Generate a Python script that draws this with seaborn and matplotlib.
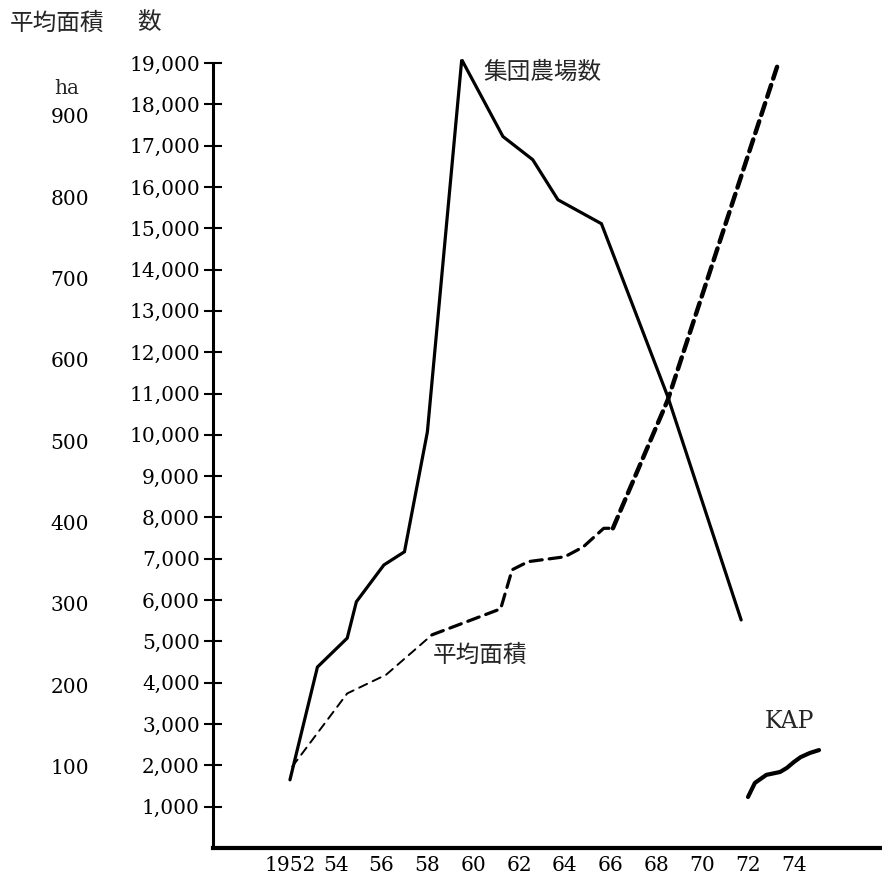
import matplotlib
matplotlib.use("Agg")
import matplotlib.pyplot as plt
import seaborn as sns
import pandas as pd
from matplotlib.ticker import FuncFormatter, FixedLocator

# ---------------- data ----------------
farm_years = [1952.0, 1953.2, 1954.5, 1954.9, 1956.1, 1957.0, 1958.0, 1959.5,
              1961.3, 1962.6, 1963.7, 1965.6, 1968.5, 1971.7]
farm_counts = [1650, 4380, 5080, 5960, 6850, 7170, 10070, 19080,
               17220, 16660, 15690, 15110, 10920, 5520]

area_years = [1952.1, 1954.5, 1956.2, 1958.2, 1961.2, 1961.7, 1962.4,
              1964.0, 1964.8, 1965.7, 1966.1, 1968.5, 1973.3]
area_ha = [100, 190, 213, 262, 294, 342, 352, 358, 370, 393, 393, 551, 963]

kap_years = [1972.0, 1972.3, 1972.8, 1973.4, 1973.7, 1974.0, 1974.3, 1974.7, 1975.1]
kap_counts = [1235, 1575, 1770, 1840, 1940, 2080, 2200, 2300, 2370]

year_ticks = list(range(1952, 1975, 2))
year_labels = ["1952", "54", "56", "58", "60", "62", "64", "66", "68", "70", "72", "74"]
farm_ticks = list(range(1000, 19001, 1000))
ha_ticks = list(range(100, 901, 100))

label_farms = "集団農場数"
label_area = "平均面積"
label_kap = "KAP"
top_left_area = "平均面積"
top_left_count = "数"
unit_ha = "ha"

# ---------------- styling ----------------
sns.set_theme(style="white")
plt.rcParams["font.family"] = ["DejaVu Serif", "Noto Sans CJK JP"]
JP = ["Noto Sans CJK JP", "DejaVu Sans"]
NUM_FS = 14.5
JP_FS = 17

W, H = 882, 885
fig = plt.figure(figsize=(W / 100, H / 100), dpi=100)
fig.patch.set_facecolor("white")

ax_left, ax_bottom, ax_top = 213, 848, 63
ax = fig.add_axes([ax_left / W, (H - ax_bottom) / H, (W - ax_left) / W, (ax_bottom - ax_top) / H])
ax.set_facecolor("white")
ax.set_xlim(1948.64, 1977.85)
ax.set_ylim(0, 19000)

# number of collective farms (solid)
df_farm = pd.DataFrame({"year": farm_years, "n": farm_counts})
sns.lineplot(data=df_farm, x="year", y="n", ax=ax, color="black", lw=2.3,
             sort=False, estimator=None, clip_on=False, solid_joinstyle="miter")

# KAP (solid, curved)
df_kap = pd.DataFrame({"year": kap_years, "n": kap_counts})
sns.lineplot(data=df_kap, x="year", y="n", ax=ax, color="black", lw=3.0,
             sort=False, estimator=None, clip_on=False, solid_capstyle="round")

# average area (dashed) on the ha scale
ax2 = ax.twinx()
ax2.set_ylim(0, 965)
df_area = pd.DataFrame({"year": area_years, "ha": area_ha})
zones = [(0, 3, 1.4, (4.5, 3.2)), (3, 10, 2.3, (3.8, 2.2)), (10, 12, 3.2, (2.8, 1.5))]
for i0, i1, lw, dash in zones:
    part = df_area.iloc[i0:i1 + 1]
    sns.lineplot(data=part, x="year", y="ha", ax=ax2, color="black", lw=lw,
                 linestyle=(0, dash), sort=False, estimator=None, clip_on=False,
                 dash_capstyle="round")

# ---------------- axes ----------------
for s in ["top", "right"]:
    ax.spines[s].set_visible(False)
ax.spines["left"].set_linewidth(2.2)
ax.spines["bottom"].set_linewidth(3.0)
ax.spines["left"].set_color("black")
ax.spines["bottom"].set_color("black")

ax.yaxis.set_major_locator(FixedLocator(farm_ticks))
ax.yaxis.set_major_formatter(FuncFormatter(lambda v, p: f"{int(v):,}"))
ax.tick_params(axis="y", direction="inout", length=13, width=1.5, pad=3,
               labelsize=NUM_FS, colors="black", left=True)
ax.set_xticks(year_ticks)
ax.set_xticklabels(year_labels)
ax.tick_params(axis="x", length=0, pad=6, labelsize=NUM_FS, colors="black")
ax.set_xlabel("")
ax.set_ylabel("")

for s in ax2.spines.values():
    s.set_visible(False)
ax2.yaxis.set_ticks_position("left")
ax2.spines["left"].set_position(("axes", -0.185))
ax2.yaxis.set_major_locator(FixedLocator(ha_ticks))
ax2.tick_params(axis="y", length=0, pad=0, labelsize=NUM_FS, colors="black",
                left=True, right=False, labelleft=True, labelright=False)
ax2.set_ylabel("")

# ---------------- texts ----------------
ax.text(1960.43, 18780, label_farms, family=JP, fontsize=JP_FS, ha="left", va="center")
ax.text(1958.24, 4670, label_area, family=JP, fontsize=JP_FS, ha="left", va="center")
ax.text(1972.74, 3070, label_kap, fontsize=17, ha="left", va="center")

fig.text(10 / W, 1 - 23 / H, top_left_area, family=JP, fontsize=JP_FS, ha="left", va="center")
fig.text(137 / W, 1 - 23 / H, top_left_count, family=JP, fontsize=JP_FS, ha="left", va="center")
fig.text(67 / W, 1 - 89 / H, unit_ha, fontsize=NUM_FS, ha="center", va="center")

fig.savefig("out.png", dpi=100, facecolor="white")
